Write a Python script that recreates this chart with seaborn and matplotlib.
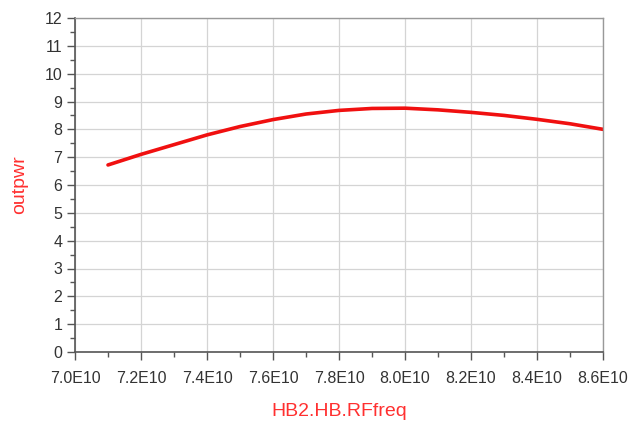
import numpy as np
import pandas as pd
import seaborn as sns
import matplotlib
matplotlib.use('Agg')
import matplotlib.pyplot as plt
from matplotlib.ticker import MultipleLocator

# data
freq = [7.1e10, 7.2e10, 7.3e10, 7.4e10, 7.5e10, 7.6e10, 7.7e10, 7.8e10,
        7.9e10, 8.0e10, 8.1e10, 8.2e10, 8.3e10, 8.4e10, 8.5e10, 8.6e10]
outpwr = [6.72, 7.1, 7.45, 7.8, 8.1, 8.35, 8.55, 8.68,
          8.75, 8.76, 8.7, 8.61, 8.5, 8.36, 8.2, 8.0]
x_ticks = [7.0e10, 7.2e10, 7.4e10, 7.6e10, 7.8e10, 8.0e10, 8.2e10, 8.4e10, 8.6e10]
x_ticklabels = ['7.0E10', '7.2E10', '7.4E10', '7.6E10', '7.8E10', '8.0E10', '8.2E10', '8.4E10', '8.6E10']
y_ticks = list(range(0, 13))

df = pd.DataFrame({'HB2.HB.RFfreq': freq, 'outpwr': outpwr})

sns.set_style('white')
plt.rcParams['font.family'] = ['Liberation Sans', 'DejaVu Sans']

fig = plt.figure(figsize=(6.3, 4.25), dpi=100)
ax = fig.add_axes([75/630, 1 - 352/425, (603 - 75)/630, (352 - 18)/425])

sns.lineplot(data=df, x='HB2.HB.RFfreq', y='outpwr', color='#f01010', lw=2.6, ax=ax)

ax.set_xlim(7.0e10, 8.6e10)
ax.set_ylim(0, 12)
ax.set_xticks(x_ticks)
ax.set_xticklabels(x_ticklabels)
ax.set_yticks(y_ticks)
ax.xaxis.set_minor_locator(MultipleLocator(0.1e10))
ax.yaxis.set_minor_locator(MultipleLocator(0.5))

ax.grid(True, which='major', color='#d4d4d4', lw=0.9)
ax.set_axisbelow(True)
for side in ['left', 'bottom']:
    ax.spines[side].set_color('#555555')
    ax.spines[side].set_linewidth(1.2)
for side in ['top', 'right']:
    ax.spines[side].set_color('#999999')
    ax.spines[side].set_linewidth(1.0)

ax.tick_params(axis='both', which='major', direction='out', length=6, width=1.0,
               color='#555555', labelsize=11.5, labelcolor='#333333', pad=3)
ax.tick_params(axis='both', which='minor', direction='out', length=3.5, width=1.0,
               color='#555555')
ax.tick_params(axis='x', which='major', pad=8)
ax.tick_params(axis='y', which='both', left=True)
ax.tick_params(axis='x', which='both', bottom=True)

ax.set_xlabel('HB2.HB.RFfreq', color='#ff3030', fontsize=14, labelpad=12)
ax.set_ylabel('outpwr', color='#ff3030', fontsize=14, labelpad=12)

fig.savefig('out.png', dpi=100)
